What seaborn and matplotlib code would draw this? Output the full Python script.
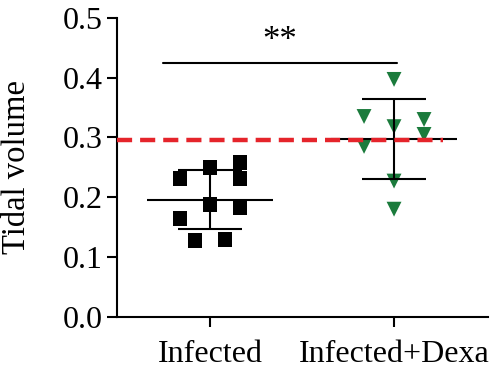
import numpy as np
import pandas as pd
import matplotlib
matplotlib.use("Agg")
import matplotlib.pyplot as plt
import seaborn as sns

# values
groups = ["Infected", "Infected+Dexa"]
infected = [0.258, 0.250, 0.232, 0.232, 0.188, 0.183, 0.165, 0.127, 0.130]
dexa = [0.397, 0.335, 0.330, 0.318, 0.305, 0.285, 0.227, 0.180]
# column slot of each point inside its group (Prism-like scatter layout)
infected_slot = [1, 0, -1, 1, 0, 1, -1, -0.5, 0.5]
dexa_slot = [0, -1, 1, 0, 1, -1, 0, 0]
ref_level = 0.295
sig_label = "**"
sig_y = 0.425

df = pd.DataFrame({
    "group": [groups[0]] * len(infected) + [groups[1]] * len(dexa),
    "value": infected + dexa,
    "slot": infected_slot + dexa_slot,
})
df["gi"] = df["group"].map({g: i for i, g in enumerate(groups)})
df["x"] = df["gi"] + df["slot"] * 0.163

sns.set_style("ticks")
plt.rcParams["font.family"] = ["Liberation Serif", "DejaVu Serif"]
plt.rcParams["text.color"] = "black"
plt.rcParams["axes.labelcolor"] = "black"

fig = plt.figure(figsize=(4.94, 3.79), dpi=100)
ax = fig.add_axes([0.237, 0.164, 0.751, 0.789])

green = "#1b7b3c"
sns.scatterplot(data=df, x="x", y="value", hue="group", style="group",
                markers={groups[0]: "s", groups[1]: "v"},
                palette={groups[0]: "black", groups[1]: green},
                s=115, linewidth=0, legend=False, ax=ax, zorder=3)

# mean line and SD bars
for i, g in enumerate(groups):
    v = df.loc[df.group == g, "value"]
    m, sd = v.mean(), v.std()
    ax.hlines(m, i - 0.34, i + 0.34, color="black", lw=1.5, zorder=4)
    ax.vlines(i, m - sd, m + sd, color="black", lw=1.5, zorder=4)
    ax.hlines([m - sd, m + sd], i - 0.174, i + 0.174, color="black", lw=1.5, zorder=4)

# reference dashed line
ax.plot([-0.505, 1.266], [ref_level, ref_level], color="#e5242b", lw=3.2,
        dashes=(3.4, 1.8), solid_capstyle="butt", zorder=5)

# significance bar
ax.plot([-0.255, 1.016], [sig_y, sig_y], color="black", lw=1.5)
ax.text(0.38, sig_y + 0.008, sig_label, ha="center", va="bottom", fontsize=25, color="black")

ax.set_xlim(-0.505, 1.511)
ax.set_ylim(0, 0.5)
ax.set_xticks([0, 1])
ax.set_xticklabels(groups)
ax.set_yticks(np.arange(0, 0.51, 0.1))
ax.set_yticklabels([f"{t:.1f}" for t in np.arange(0, 0.51, 0.1)])
ax.set_xlabel("")
ax.set_ylabel("Tidal volume", fontsize=23.5, color="black")
ax.yaxis.set_label_coords(-0.228, 0.5)
ax.tick_params(labelsize=23, width=1.5, length=7, color="black", labelcolor="black")
ax.tick_params(axis="x", pad=10)
for side in ["top", "right"]:
    ax.spines[side].set_visible(False)
for side in ["left", "bottom"]:
    ax.spines[side].set_linewidth(1.5)
    ax.spines[side].set_color("black")

fig.savefig("out.png", dpi=100)
